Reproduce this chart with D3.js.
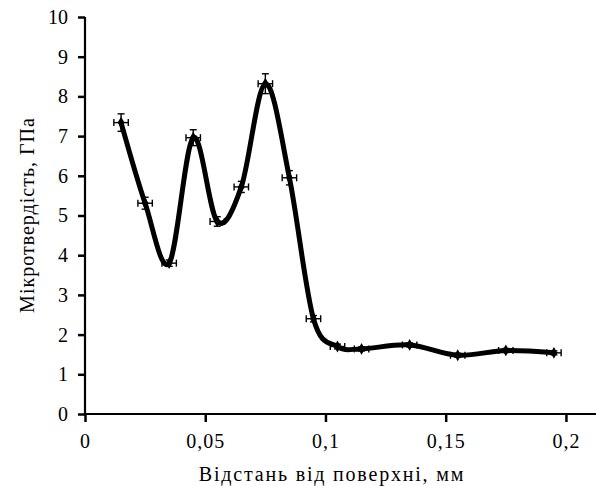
<!DOCTYPE html>
<html>
<head>
<meta charset="utf-8">
<script src="https://cdn.jsdelivr.net/npm/d3@7.9.0/dist/d3.min.js"></script>
<style>
  body { margin: 0; background: #fff; }
</style>
</head>
<body>
<svg id="chart" width="596" height="486"></svg>
<script>
// distance from surface, mm
const distance = [0.015, 0.025, 0.035, 0.045, 0.055, 0.065, 0.075, 0.085, 0.095, 0.105, 0.115, 0.135, 0.155, 0.175, 0.195];
// microhardness, GPa
const hardness = [7.34, 5.31, 3.8, 6.96, 4.85, 5.72, 8.32, 5.95, 2.4, 1.7, 1.64, 1.74, 1.48, 1.6, 1.54];
const yErr = [0.22, 0.15, 0.08, 0.2, 0.12, 0.14, 0.25, 0.18, 0.08, 0.06, 0.05, 0.05, 0.05, 0.05, 0.05];
const xErr = 0.003;
const xTicks = [0, 0.05, 0.1, 0.15, 0.2];
const yTicks = [0, 1, 2, 3, 4, 5, 6, 7, 8, 9, 10];

const serif = 'Liberation Serif';

const svg = d3.select('#chart').attr('font-family', serif);
const x = d3.scaleLinear().domain([0, 0.2125]).range([85, 596]);
const y = d3.scaleLinear().domain([0, 10]).range([414, 17]);

const data = distance.map((d, i) => ({ x: d, y: hardness[i], e: yErr[i] }));

// axes
let xAxis = svg.append('g')
  .attr('transform', `translate(0,${y(0)})`)
  .call(d3.axisBottom(x).tickValues(xTicks).tickSize(8).tickPadding(12)
    .tickFormat(d => String(d).replace('.', ',')));
let yAxis = svg.append('g')
  .attr('transform', `translate(${x(0)},0)`)
  .call(d3.axisLeft(y).tickValues(yTicks).tickSize(7).tickPadding(10));

[xAxis, yAxis].forEach(a => {
  a.attr('font-family', serif).attr('font-size', 20);
  a.select('.domain').attr('stroke', '#000').attr('stroke-width', 2.2);
  a.selectAll('.tick line').attr('stroke', '#000').attr('stroke-width', 2.5);
  a.selectAll('.tick text')
    .attr('font-family', serif)
    .attr('font-size', 20)
    .attr('fill', '#000');
});
xAxis.selectAll('.tick text').attr('letter-spacing', 1);
// x axis without the outer tick on the right end
xAxis.select('.domain').attr('d', `M${x(0)},0H596`);
yAxis.select('.domain').attr('d', `M0,${y(10)}V${y(0)}`);

// smoothed line
const line = d3.line()
  .x(d => x(d.x))
  .y(d => y(d.y))
  .curve(d3.curveCardinal.tension(0));

svg.append('path')
  .datum(data)
  .attr('d', line)
  .attr('fill', 'none')
  .attr('stroke', '#000')
  .attr('stroke-width', 5);

// error bars
let bars = svg.append('g').attr('stroke', '#000').attr('stroke-width', 1.4);
data.forEach(d => {
  let cx = x(d.x), cy = y(d.y);
  let y0 = y(d.y - d.e), y1 = y(d.y + d.e);
  let x0 = x(d.x - xErr), x1 = x(d.x + xErr);
  bars.append('line').attr('x1', cx).attr('x2', cx).attr('y1', y0).attr('y2', y1);
  bars.append('line').attr('x1', cx - 3.5).attr('x2', cx + 3.5).attr('y1', y0).attr('y2', y0);
  bars.append('line').attr('x1', cx - 3.5).attr('x2', cx + 3.5).attr('y1', y1).attr('y2', y1);
  bars.append('line').attr('x1', x0).attr('x2', x1).attr('y1', cy).attr('y2', cy);
  bars.append('line').attr('x1', x0).attr('x2', x0).attr('y1', cy - 3.5).attr('y2', cy + 3.5);
  bars.append('line').attr('x1', x1).attr('x2', x1).attr('y1', cy - 3.5).attr('y2', cy + 3.5);
});

// markers
svg.append('g')
  .selectAll('path')
  .data(data)
  .join('path')
  .attr('d', d3.symbol().type(d3.symbolDiamond).size(40))
  .attr('transform', d => `translate(${x(d.x)},${y(d.y)})`)
  .attr('fill', '#000');

// axis titles
svg.append('text')
  .attr('x', 332)
  .attr('y', 481)
  .attr('text-anchor', 'middle')
  .attr('font-family', serif)
  .attr('font-size', 20)
  .attr('letter-spacing', 1.8)
  .text('Відстань від поверхні, мм');

svg.append('text')
  .attr('transform', 'translate(34,215) rotate(-90)')
  .attr('text-anchor', 'middle')
  .attr('font-family', serif)
  .attr('font-size', 20)
  .attr('letter-spacing', 1)
  .text('Мікротвердість,  ГПа');
</script>
</body>
</html>
